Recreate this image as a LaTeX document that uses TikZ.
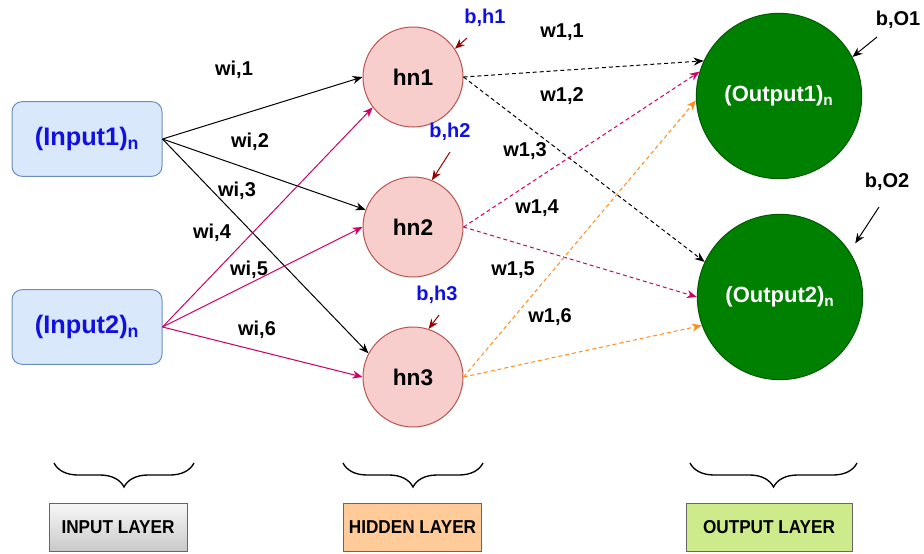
\documentclass[tikz,border=0pt]{standalone}
\usepackage{fontspec}
\setmainfont{Liberation Sans}
\usetikzlibrary{arrows.meta,decorations.pathreplacing}
\definecolor{infill}{HTML}{DAE8FC}
\definecolor{inline}{HTML}{6C8EBF}
\definecolor{hnfill}{HTML}{F8CECC}
\definecolor{hnline}{HTML}{B85450}
\definecolor{outfill}{HTML}{008000}
\definecolor{outline}{HTML}{005A00}
\definecolor{wmagenta}{HTML}{CC0066}
\definecolor{worange}{HTML}{FF8C1A}
\definecolor{biasred}{HTML}{990000}
\definecolor{textblue}{HTML}{1010E0}
\definecolor{hidfill}{HTML}{FFCC99}
\definecolor{outlayfill}{HTML}{CDEB8B}
\definecolor{laybord}{HTML}{666666}

\begin{document}
\begin{tikzpicture}[x=0.75pt,y=0.75pt]
\tikzstyle{every node}+=[inner sep=0pt]
\tikzstyle{inbox}=[draw=inline, fill=infill, line width=0.75pt, rounded corners=7.5pt, minimum width=112.5pt, minimum height=56pt, text=textblue, font=\fontsize{19}{22}\selectfont\bfseries]
\tikzstyle{hn}=[circle, draw=hnline, fill=hnfill, line width=0.75pt, minimum size=75pt, font=\fontsize{17}{20}\selectfont\bfseries]
\tikzstyle{outn}=[circle, draw=outline, fill=outfill, line width=0.75pt, minimum size=124pt, text=white, font=\fontsize{16.5}{20}\selectfont\bfseries]
\tikzstyle{wlabel}=[font=\fontsize{15}{18}\selectfont\bfseries]
\tikzstyle{blabel}=[font=\fontsize{15}{18}\selectfont\bfseries]
\tikzstyle{wedge}=[-{Stealth[length=7.5pt,width=6pt]}, line width=0.75pt]
\tikzstyle{dedge}=[wedge, dash pattern=on 3pt off 2.2pt]
\tikzstyle{layer}=[draw=laybord, line width=0.75pt, minimum height=36pt, font=\fontsize{14}{16}\selectfont\bfseries]
\tikzstyle{lbrace}=[decorate, decoration={brace, mirror, amplitude=18pt}, line width=1pt]
\useasboundingbox (0,0) rectangle (924,-553);
\node [inbox] (in1) at (87,-139) {(Input1)\textsubscript{n}};
\node [inbox] (in2) at (87,-327) {(Input2)\textsubscript{n}};
\node [hn] (hn1) at (413,-77) {hn1};
\node [hn] (hn2) at (413,-227) {hn2};
\node [hn] (hn3) at (413,-377) {hn3};
\node [outn] (out1) at (779,-96) {(Output1)\textsubscript{n}};
\node [outn] (out2) at (780,-297) {(Output2)\textsubscript{n}};
\draw [wedge, black] (in1.east) -- (hn1.west);
\draw [wedge, black] (in1.east) -- (hn2.160);
\draw [wedge, black] (in1.east) -- (hn3.152);
\draw [wedge, wmagenta] (in2.east) -- (hn1.217);
\draw [wedge, wmagenta] (in2.east) -- (hn2.west);
\draw [wedge, wmagenta] (in2.east) -- (hn3.west);
\draw [dedge, black] (hn1.east) -- (out1.155);
\draw [dedge, black] (hn1.east) -- (out2.155);
\draw [dedge, wmagenta] (hn2.east) -- (out1.163);
\draw [dedge, wmagenta] (hn2.east) -- (out2.west);
\draw [dedge, worange] (hn3.east) -- (out1.183);
\draw [dedge, worange] (hn3.east) -- (out2.200);
\node [wlabel] (wi1) at (234,-70) {wi,1};
\node [wlabel] (wi2) at (250,-142) {wi,2};
\node [wlabel] (wi3) at (237,-191) {wi,3};
\node [wlabel] (wi4) at (212,-233) {wi,4};
\node [wlabel] (wi5) at (249,-270) {wi,5};
\node [wlabel] (wi6) at (257,-330) {wi,6};
\node [wlabel] (w11) at (562,-32) {w1,1};
\node [wlabel] (w12) at (562,-96) {w1,2};
\node [wlabel] (w13) at (525,-151) {w1,3};
\node [wlabel] (w14) at (537,-208) {w1,4};
\node [wlabel] (w15) at (513,-270) {w1,5};
\node [wlabel] (w16) at (550,-317) {w1,6};
\node [blabel, text=textblue] (bh1) at (485,-18) {b,h1};
\node [blabel, text=textblue] (bh2) at (450,-132) {b,h2};
\node [blabel, text=textblue] (bh3) at (437,-295) {b,h3};
\node [blabel] (bo1) at (898,-20) {b,O1};
\node [blabel] (bo2) at (887,-182) {b,O2};
\coordinate (bh1s) at (467,-38);
\coordinate (bh2s) at (450,-152);
\coordinate (bh3s) at (439,-315);
\coordinate (bo1s) at (877,-37);
\coordinate (bo2s) at (879,-207);
\draw [wedge, biasred] (bh1s) -- (hn1.34);
\draw [wedge, biasred] (bh2s) -- (hn2.68);
\draw [wedge, biasred] (bh3s) -- (hn3.72);
\draw [wedge, black] (bo1s) -- (out1.28);
\draw [wedge, black, shorten >=7.5pt] (bo2s) -- (out2.33);
\node [layer, top color=gray!6, bottom color=gray!42, minimum width=103.5pt] (inlay) at (118,-527) {\scalebox{0.92}[1]{INPUT LAYER}};
\node [layer, fill=hidfill, minimum width=104pt] (hidlay) at (412.5,-527) {\scalebox{0.92}[1]{HIDDEN LAYER}};
\node [layer, fill=outlayfill, minimum width=124.5pt] (outlay) at (769,-527) {\scalebox{0.92}[1]{OUTPUT LAYER}};
\draw [lbrace] (54,-463) -- (194,-463);
\draw [lbrace] (343,-463) -- (483,-463);
\draw [lbrace] (690,-463) -- (857,-463);
\end{tikzpicture}
\end{document}
